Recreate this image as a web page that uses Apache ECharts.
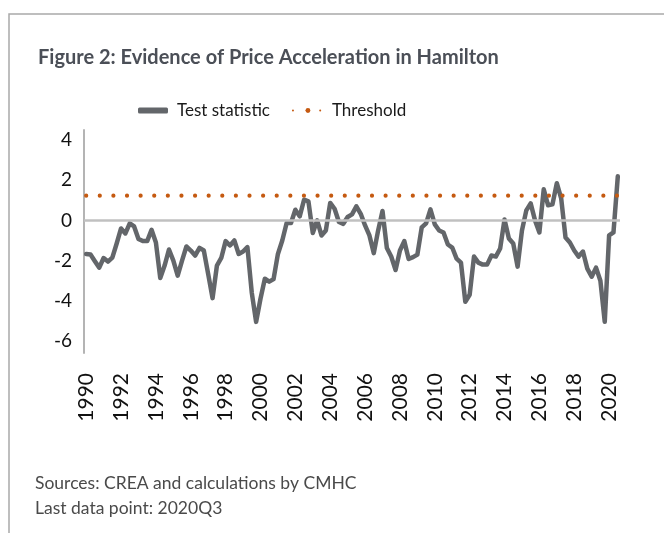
<!DOCTYPE html>
<html>
<head>
<meta charset="utf-8">
<script src="https://cdn.jsdelivr.net/npm/echarts@6/dist/echarts.min.js"></script>
<style>
  html, body { margin: 0; padding: 0; background: #ffffff; }
  #chart { width: 664px; height: 533px; }
</style>
</head>
<body>
<div id="chart"></div>
<script>
// Quarterly test statistic, 1990Q1 to 2020Q3
const startYear = 1990;
const testStatistic = [
  -1.67, -1.70, -2.03, -2.35, -1.87, -2.05, -1.85, -1.15,   // 1990-1991
  -0.40, -0.65, -0.15, -0.30, -0.92, -1.03, -1.03, -0.47,   // 1992-1993
  -1.10, -2.87, -2.25, -1.45, -2.00, -2.75, -2.00, -1.30,   // 1994-1995
  -1.50, -1.75, -1.37, -1.50, -2.67, -3.87, -2.25, -1.87,   // 1996-1997
  -1.03, -1.25, -1.00, -1.67, -1.55, -1.33, -3.60, -5.05,   // 1998-1999
  -3.90, -2.90, -3.05, -2.92, -1.67, -1.00, -0.13, -0.13,   // 2000-2001
   0.53,  0.20,  1.03,  0.95, -0.63,  0.00, -0.75, -0.50,   // 2002-2003
   0.87,  0.58, -0.08, -0.17,  0.17,  0.30,  0.70,  0.33,   // 2004-2005
  -0.25, -0.75, -1.63, -0.50,  0.47, -1.37, -1.80, -2.47,   // 2006-2007
  -1.50, -1.03, -1.92, -1.83, -1.70, -0.35, -0.15,  0.55,   // 2008-2009
  -0.20, -0.50, -0.60, -1.20, -1.35, -1.90, -2.10, -4.05,   // 2010-2011
  -3.70, -1.80, -2.10, -2.20, -2.20, -1.75, -1.80, -1.40,   // 2012-2013
   0.05, -0.90, -1.15, -2.30, -0.50,  0.50,  0.85,  0.00,   // 2014-2015
  -0.60,  1.55,  0.75,  0.80,  1.85,  1.10, -0.85, -1.10,   // 2016-2017
  -1.50, -1.80, -1.55, -2.40, -2.80, -2.35, -3.00, -5.05,   // 2018-2019
  -0.75, -0.60,  2.20                                       // 2020
];
const thresholdValue = 1.23;
const yTickValues = [-6, -4, -2, 0, 2, 4];

const quarters = testStatistic.map((_, i) => (startYear + Math.floor(i / 4)) + 'Q' + (i % 4 + 1));
const threshold = quarters.map(() => thresholdValue);

const chart = echarts.init(document.getElementById('chart'), null, { renderer: 'canvas' });

const textFont = 'Lato, "Open Sans", sans-serif';

chart.setOption({
  animation: false,
  backgroundColor: '#ffffff',
  title: {
    text: 'Figure 2: Evidence of Price Acceleration in Hamilton',
    left: 33,
    top: 43,
    textStyle: { fontFamily: textFont, fontWeight: 'bold', fontSize: 20, color: '#4b4f57' }
  },
  legend: {
    top: 97,
    left: 133,
    itemWidth: 30,
    itemHeight: 6,
    itemGap: 22,
    textStyle: { fontFamily: textFont, fontSize: 17, color: '#1a1a1a', padding: [0, 0, 0, 4] },
    data: [
      { name: 'Test statistic', icon: 'roundRect', itemStyle: { color: '#63666a' } },
      { name: 'Threshold' }
    ]
  },
  grid: { left: 84, top: 130, width: 536, height: 223, containLabel: false },
  xAxis: {
    type: 'category',
    data: quarters,
    boundaryGap: true,
    axisLine: { show: false },
    axisTick: { show: false },
    axisLabel: {
      interval: 7,
      rotate: 90,
      margin: 20,
      fontFamily: textFont,
      fontSize: 21,
      color: '#111111',
      formatter: v => v.slice(0, 4)
    }
  },
  yAxis: {
    type: 'value',
    min: -6.6,
    max: 4.5,
    axisLine: { show: true, lineStyle: { color: '#b4b4b4', width: 2 } },
    axisTick: { show: false },
    splitLine: { show: false },
    axisLabel: {
      customValues: yTickValues,
      margin: 12,
      fontFamily: textFont,
      fontSize: 19,
      color: '#111111'
    }
  },
  graphic: [
    {
      type: 'rect',
      shape: { x: 9, y: 14, width: 700, height: 600 },
      style: { fill: 'none', stroke: '#a9a9a9', lineWidth: 1.5 },
      silent: true,
      z: -1
    },
    {
      type: 'text',
      left: 35,
      top: 471,
      style: {
        text: 'Sources: CREA and calculations by CMHC\nLast data point: 2020Q3',
        fontFamily: textFont,
        fontSize: 17.5,
        lineHeight: 25,
        fill: '#4a4a4a'
      }
    }
  ],
  series: [
    {
      name: 'zero',
      type: 'line',
      data: [],
      z: 1,
      markLine: {
        silent: true,
        symbol: ['none', 'none'],
        label: { show: false },
        lineStyle: { color: '#c0c0c0', width: 2.5, type: 'solid' },
        data: [{ yAxis: 0 }]
      }
    },
    {
      name: 'Test statistic',
      type: 'line',
      data: testStatistic,
      z: 2,
      showSymbol: false,
      symbol: 'none',
      lineStyle: { color: '#63666a', width: 4.5, join: 'round', cap: 'round' },
      itemStyle: { color: '#63666a' }
    },
    {
      name: 'Threshold',
      type: 'line',
      data: threshold,
      z: 3,
      showSymbol: false,
      symbol: 'none',
      lineStyle: { color: '#c55a11', width: 4.2, type: [0.01, 13.6], cap: 'round' },
      itemStyle: { color: '#c55a11' }
    }
  ]
});
</script>
</body>
</html>
